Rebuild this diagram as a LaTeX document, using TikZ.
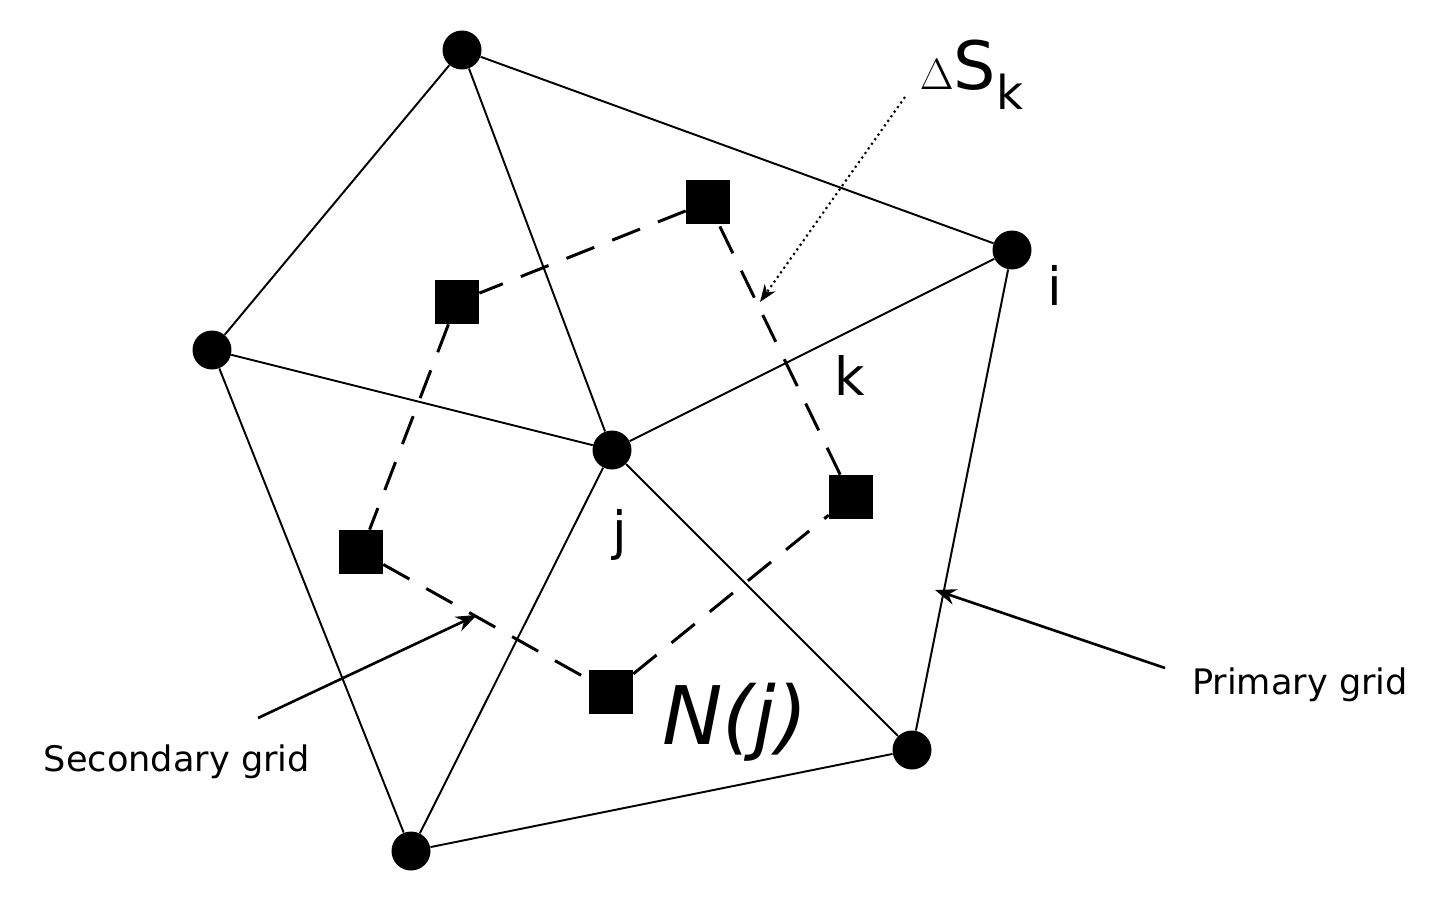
\documentclass[tikz,border=0pt]{standalone}
\usepackage{fontspec}
\setmainfont{DejaVu Sans}
\usetikzlibrary{arrows.meta}
\begin{document}
\begin{tikzpicture}[x=0.02cm,y=-0.02cm,
  pt/.style={circle,fill=black,inner sep=0pt,minimum size=0.78cm},
  sq/.style={rectangle,fill=black,inner sep=0pt,minimum size=0.88cm},
  prim/.style={line width=1.1pt},
  sec/.style={line width=1.7pt,dash pattern=on 17pt off 11pt},
  lab/.style={font=\fontsize{30}{34}\selectfont,inner sep=0pt},
  small/.style={font=\fontsize{20}{24}\selectfont,inner sep=0pt}]
\useasboundingbox (0,0) rectangle (1446,909);
\node[pt] (t) at (462,50) {};
\node[pt] (l) at (212,350) {};
\node[pt] (b) at (411,851) {};
\node[pt] (j) at (612,450) {};
\node[pt] (i) at (1012,250) {};
\node[pt] (r) at (912,750) {};
\draw[prim] (t)--(l) (t)--(j) (t)--(i) (l)--(j) (l)--(b) (b)--(j) (b)--(r) (j)--(i) (j)--(r) (i)--(r);
\node[sq] (s1) at (708,202) {};
\node[sq] (s2) at (457,302) {};
\node[sq] (s3) at (361,552) {};
\node[sq] (s4) at (611,692) {};
\node[sq] (s5) at (851,497) {};
\draw[sec] (s1)--(s2) (s2)--(s3) (s3)--(s4) (s4)--(s5) (s5)--(s1);
\node[lab] (li) at (1055,285) {i};
\node[lab] (lk) at (850,375) {k};
\node[lab] (lj) at (620,535) {j};
\node[font=\fontsize{46}{50}\selectfont\itshape,inner sep=0pt] (nj) at (735,722) {N(j)};
\node[font=\fontsize{38}{42}\selectfont,inner sep=0pt] (ds) at (972,75) {$\Delta$S\textsubscript{k}};
\node[small] (pg) at (1300,685) {Primary grid};
\node[small] (sg) at (177,762) {Secondary grid};
\coordinate (d0) at (905,97);
\coordinate (d1) at (760,302);
\draw[line width=1.2pt,dotted,-{Stealth[length=10pt]}] (d0)--(d1);
\coordinate (p0) at (1165,668);
\coordinate (p1) at (935,590);
\draw[line width=1.5pt,-{Stealth[length=12pt]}] (p0)--(p1);
\coordinate (q0) at (258,718);
\coordinate (q1) at (477,615);
\draw[line width=1.5pt,-{Stealth[length=12pt]}] (q0)--(q1);
\end{tikzpicture}
\end{document}
